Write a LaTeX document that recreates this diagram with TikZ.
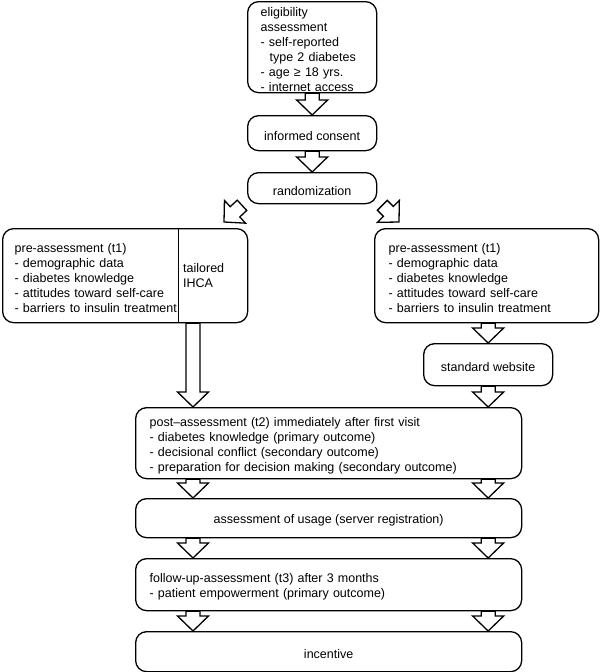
\documentclass[tikz,border=0pt]{standalone}
\usepackage{fontspec}
\setmainfont{Liberation Sans}
\usetikzlibrary{calc}
\tikzset{
  box/.style={draw, line width=1.3pt, rounded corners=11pt, inner sep=0pt, font=\fontsize{12.5}{15}\selectfont,
    execute at begin node=\rule{0pt}{14pt}},
  lbox/.style={box, align=left, anchor=north west},
  cbox/.style={box, align=center, anchor=north west},
  blockarr/.style={draw, line width=1.3pt, line join=miter}
}
\newcommand{\blockarrow}[2]{%
  \coordinate (hb) at ($(#2)!15pt!(#1)$);
  \draw[blockarr] ($(#1)!7pt!90:(#2)$) -- ($(hb)!7pt!90:(#2)$) -- ($(hb)!15.5pt!90:(#2)$) -- (#2)
    -- ($(hb)!15.5pt!-90:(#2)$) -- ($(hb)!7pt!-90:(#2)$) -- ($(#1)!7pt!-90:(#2)$) -- cycle;}
\begin{document}
\begin{tikzpicture}[x=1pt,y=-1pt]
\useasboundingbox (0,0) rectangle (600,672);
\node[lbox, text width=103pt, inner xsep=13pt, minimum height=91pt] (elig) at (247,1) {eligibility\\assessment\\- self-reported\\\hspace*{9pt}type 2 diabetes\\- age ≥ 18 yrs.\\- internet access};
\node[cbox, minimum width=129pt, minimum height=35pt] (cons) at (247,115) {informed consent};
\node[cbox, minimum width=129pt, minimum height=31pt] (rand) at (247,172) {randomization};
\node[lbox, text width=221pt, inner xsep=12pt, minimum height=94pt] (preL) at (2,228) {pre-assessment (t1)\\- demographic data\\- diabetes knowledge\\- attitudes toward self-care\\- barriers\hspace{4.5pt}to insulin treatment};
\node[anchor=west, align=left, inner xsep=5pt, font=\fontsize{12.5}{15}\selectfont] (ihca) at (178,276) {tailored\\IHCA};
\draw[line width=0.8pt] (preL.north -| ihca.west) -- (preL.south -| ihca.west);
\node[lbox, text width=196pt, inner xsep=14pt, minimum height=94pt] (preR) at (374,228) {pre-assessment (t1)\\- demographic data\\- diabetes knowledge\\- attitudes toward self-care\\- barriers\hspace{4.5pt}to insulin treatment};
\node[cbox, minimum width=129pt, minimum height=42pt] (web) at (423,343) {standard website};
\node[lbox, text width=358pt, inner xsep=14pt, minimum height=71pt] (post) at (135,407) {post–assessment (t2) immediately after first visit\\- diabetes knowledge (primary outcome)\\- decisional conflict (secondary outcome)\\- preparation for decision making (secondary outcome)};
\node[cbox, minimum width=386pt, minimum height=39pt] (usage) at (135,498) {assessment of usage (server registration)};
\node[lbox, text width=358pt, inner xsep=14pt, minimum height=52pt] (follow) at (135,558) {follow-up-assessment (t3) after 3 months\\- patient empowerment (primary outcome)};
\node[cbox, minimum width=386pt, minimum height=40pt] (incent) at (135,631) {incentive};
\coordinate (colL) at (193,0);
\coordinate (colR) at (web.north);
\coordinate (rL) at ($(rand.south west)+(-5,1)$);
\coordinate (pL) at (224,222);
\coordinate (rR) at ($(rand.south east)+(5,1)$);
\coordinate (pR) at (399,222);
\blockarrow{elig.south}{cons.north}
\blockarrow{cons.south}{rand.north}
\blockarrow{rL}{pL}
\blockarrow{rR}{pR}
\blockarrow{colL |- preL.south}{colL |- post.north}
\blockarrow{colR |- preR.south}{web.north}
\blockarrow{web.south}{colR |- post.north}
\blockarrow{colL |- post.south}{colL |- usage.north}
\blockarrow{colR |- post.south}{colR |- usage.north}
\blockarrow{colL |- usage.south}{colL |- follow.north}
\blockarrow{colR |- usage.south}{colR |- follow.north}
\blockarrow{colL |- follow.south}{colL |- incent.north}
\blockarrow{colR |- follow.south}{colR |- incent.north}
\end{tikzpicture}
\end{document}
